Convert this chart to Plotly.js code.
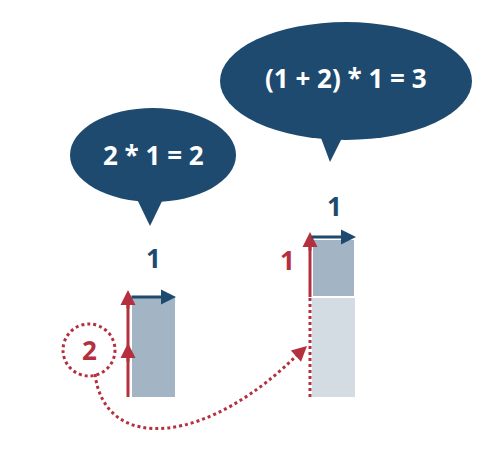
<!DOCTYPE html>
<html>
<head>
<meta charset="utf-8">
<script src="https://cdn.plot.ly/plotly-3.0.1.min.js"></script>
<style>body{margin:0}#chart{width:486px;height:449px}</style>
</head>
<body>
<div id="chart"></div>
<script>
// data: the two bars, in units of "1 step" (left = 2*1, right = 2 + 1)
var barX = [153.5, 333.5];
var lowerVals = [2, 2];
var upperVals = [0, 1.16];
var bubbleTexts = ['2 * 1 = 2', '(1 + 2) * 1 = 3'];

var navy = '#1d4a6e', red = '#b5303f';
var PX = 50, BOTTOM = 397;
function py(p) { return (BOTTOM - p) / PX; }   // pixel row -> data y

var traces = [
  {type: 'bar', x: barX, y: lowerVals, width: 43, marker: {color: ['#a3b4c5', '#d3dbe3']}, hoverinfo: 'skip'},
  {type: 'bar', x: barX, y: upperVals, width: 43, marker: {color: '#a3b4c5', line: {color: 'white', width: [0, 1.5]}}, hoverinfo: 'skip'}
];

var shapes = [
  // bubbles
  {type: 'circle', x0: 70, x1: 236, y0: py(108), y1: py(202), fillcolor: navy, line: {width: 0}},
  {type: 'path', path: 'M 135 ' + py(195) + ' L 150 ' + py(226) + ' L 165 ' + py(195) + ' Z', fillcolor: navy, line: {width: 0}},
  {type: 'circle', x0: 220, x1: 472, y0: py(22), y1: py(140), fillcolor: navy, line: {width: 0}},
  {type: 'path', path: 'M 318 ' + py(130) + ' L 330 ' + py(162) + ' L 345 ' + py(132) + ' Z', fillcolor: navy, line: {width: 0}},
  // red verticals
  {type: 'line', x0: 128, x1: 128, y0: py(397), y1: py(300), line: {color: red, width: 3}},
  {type: 'line', x0: 310, x1: 310, y0: py(397), y1: py(298), line: {color: red, width: 3, dash: 'dot'}},
  {type: 'line', x0: 310, x1: 310, y0: py(297), y1: py(245), line: {color: red, width: 3}},
  // dotted circle and curve
  {type: 'circle', x0: 63, x1: 115, y0: py(324), y1: py(376), line: {color: red, width: 3, dash: 'dot'}},
  {type: 'path', path: 'M 95 ' + py(374) + ' C 105 ' + py(455) + ' 210 ' + py(445) + ' 302 ' + py(350),
   line: {color: red, width: 3, dash: 'dot'}}
];

function arrow(x, y, ax, ay, color) {
  return {x: x, y: y, ax: ax, ay: ay, showarrow: true, arrowhead: 2, arrowsize: 1,
          arrowwidth: 3, arrowcolor: color, text: ''};
}
var f = function (s, c) { return {family: 'Open Sans', size: s, color: c}; };
var annotations = [
  {x: 153, y: py(155), text: '<b>' + bubbleTexts[0] + '</b>', showarrow: false, font: f(26, 'white')},
  {x: 346, y: py(78), text: '<b>' + bubbleTexts[1] + '</b>', showarrow: false, font: f(26, 'white')},
  {x: 153, y: py(258), text: '<b>1</b>', showarrow: false, font: f(26, navy)},
  {x: 334, y: py(206), text: '<b>1</b>', showarrow: false, font: f(26, navy)},
  {x: 287, y: py(260), text: '<b>1</b>', showarrow: false, font: f(26, red)},
  {x: 89, y: py(350), text: '<b>2</b>', showarrow: false, font: f(26, red)},
  arrow(128, py(290), 0, 20, red),
  arrow(128, py(343), 0, 20, red),
  arrow(310, py(232), 0, 20, red),
  arrow(176, py(297), -46, 0, navy),
  arrow(356, py(237), -46, 0, navy),
  arrow(307, py(346), -12, 11, red)
];

Plotly.newPlot('chart', traces, {
  width: 486, height: 449, margin: {l: 0, r: 0, t: 0, b: 0},
  barmode: 'stack', showlegend: false, bargap: 0,
  paper_bgcolor: 'white', plot_bgcolor: 'white',
  xaxis: {range: [0, 486], visible: false, fixedrange: true},
  yaxis: {range: [py(449), py(0)], visible: false, fixedrange: true},
  shapes: shapes, annotations: annotations
}, {staticPlot: true});
</script>
</body>
</html>
